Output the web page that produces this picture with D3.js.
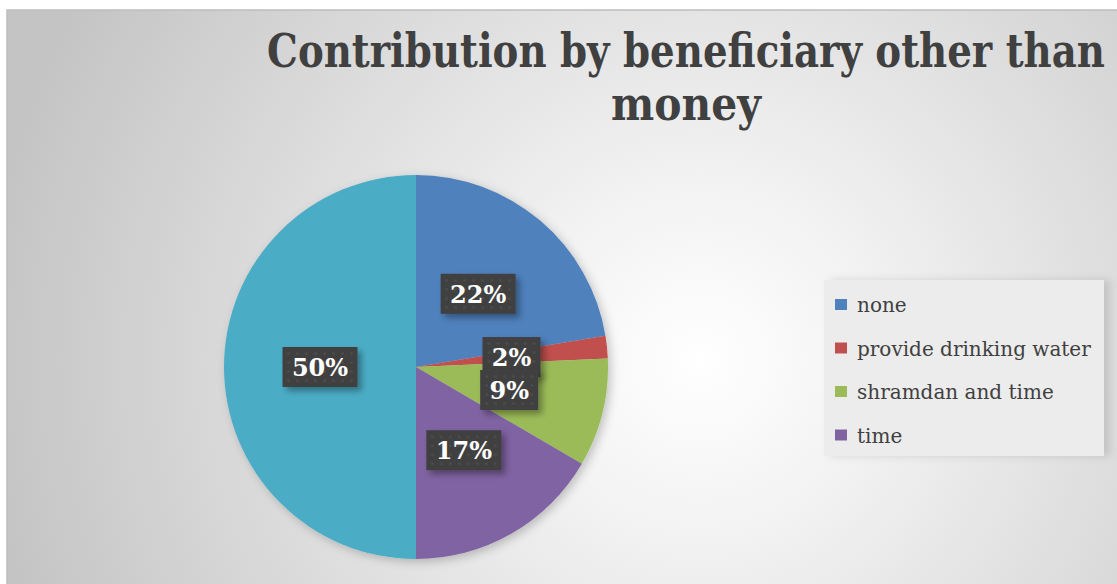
<!DOCTYPE html>
<html>
<head>
<meta charset="utf-8">
<script src="https://cdn.jsdelivr.net/npm/d3@7"></script>
<style>
  html, body { margin: 0; padding: 0; background: #fff; }
  svg { display: block; }
</style>
</head>
<body>
<div id="root"></div>
<script>
// chart data
const categories = ["none", "provide drinking water", "shramdan and time", "time", ""];
const values = [22.4, 1.9, 9.1, 16.6, 50];
const colors = ["#4f81bd", "#c0504d", "#9bbb59", "#8064a2", "#4bacc6"];
const titleLines = ["Contribution by beneficiary other than", "money"];

const width = 1117, height = 584;
const frame = { left: 7, top: 10 };
const pieCenter = { x: 416, y: 367 }, radius = 192;

const svg = d3.select("#root")
  .append("svg")
  .attr("width", width)
  .attr("height", height);

const defs = svg.append("defs");

// soft grey radial background
const bg = defs.append("radialGradient")
  .attr("id", "bg")
  .attr("gradientUnits", "userSpaceOnUse")
  .attr("cx", 700).attr("cy", 360).attr("r", 720);
bg.append("stop").attr("offset", "0").attr("stop-color", "#ffffff");
bg.append("stop").attr("offset", "0.25").attr("stop-color", "#f2f2f2");
bg.append("stop").attr("offset", "1").attr("stop-color", "#c4c4c4");

// shadows
const pieShadow = defs.append("filter").attr("id", "pieShadow")
  .attr("x", "-20%").attr("y", "-20%").attr("width", "140%").attr("height", "140%");
pieShadow.append("feDropShadow")
  .attr("dx", 3).attr("dy", 3).attr("stdDeviation", 5)
  .attr("flood-color", "#000").attr("flood-opacity", 0.22);

const boxShadow = defs.append("filter").attr("id", "boxShadow")
  .attr("x", "-30%").attr("y", "-30%").attr("width", "160%").attr("height", "160%");
boxShadow.append("feDropShadow")
  .attr("dx", 4).attr("dy", 4).attr("stdDeviation", 3)
  .attr("flood-color", "#000").attr("flood-opacity", 0.35);

const legendShadow = defs.append("filter").attr("id", "legendShadow")
  .attr("x", "-10%").attr("y", "-10%").attr("width", "130%").attr("height", "130%");
legendShadow.append("feDropShadow")
  .attr("dx", 6).attr("dy", 0).attr("stdDeviation", 4)
  .attr("flood-color", "#000").attr("flood-opacity", 0.12);

// dotted texture for the data label boxes
const dots = defs.append("pattern")
  .attr("id", "dots")
  .attr("patternUnits", "userSpaceOnUse")
  .attr("width", 9).attr("height", 9);
dots.append("rect").attr("width", 9).attr("height", 9).attr("fill", "#3f3f3f");
dots.append("circle").attr("cx", 4.5).attr("cy", 4.5).attr("r", 1.6).attr("fill", "#4b4b4b");

// chart area
svg.append("rect")
  .attr("x", frame.left).attr("y", frame.top)
  .attr("width", width - frame.left + 5).attr("height", height - frame.top + 5)
  .attr("fill", "url(#bg)")
  .attr("stroke", "#bdbdbd").attr("stroke-width", 1.5);

// title: condensed by a horizontal scale so it fits the visible area
const titleWidths = [838, 150];
svg.append("g")
  .selectAll("g")
  .data(titleLines)
  .join("g")
  .attr("transform", (d, i) => `translate(686, ${67 + i * 53})`)
  .append("text")
  .attr("text-anchor", "middle")
  .attr("fill", "#404040")
  .style("font-family", "'DejaVu Serif', serif")
  .style("font-weight", "bold")
  .style("font-size", "47px")
  .text(d => d)
  .each(function (d, i) {
    const sx = titleWidths[i] / this.getComputedTextLength();
    this.setAttribute("transform", `scale(${sx}, 1)`);
  });

// pie
const data = categories.map((c, i) => ({ category: c, value: values[i], color: colors[i] }));
const total = d3.sum(values);
const pie = d3.pie().sort(null).value(d => d.value);
const arc = d3.arc().innerRadius(0).outerRadius(radius);
const labelArc = d3.arc().innerRadius(radius * 0.5).outerRadius(radius * 0.5);
const arcs = pie(data);

const pieG = svg.append("g")
  .attr("transform", `translate(${pieCenter.x}, ${pieCenter.y})`);

pieG.append("g")
  .attr("filter", "url(#pieShadow)")
  .selectAll("path")
  .data(arcs)
  .join("path")
  .attr("d", arc)
  .attr("fill", d => d.data.color);

// data labels
const fmt = d3.format(".0%");
const labels = pieG.append("g")
  .selectAll("g")
  .data(arcs)
  .join("g")
  .attr("transform", d => `translate(${labelArc.centroid(d)})`);

labels.append("rect")
  .attr("x", d => -(fmt(d.data.value / total).length * 17 + 24) / 2)
  .attr("y", -20)
  .attr("width", d => fmt(d.data.value / total).length * 17 + 24)
  .attr("height", 40)
  .attr("fill", "url(#dots)")
  .attr("filter", "url(#boxShadow)");

labels.append("text")
  .attr("text-anchor", "middle")
  .attr("dy", "0.37em")
  .attr("fill", "#ffffff")
  .style("font-family", "'DejaVu Serif', serif")
  .style("font-weight", "bold")
  .style("font-size", "24px")
  .text(d => fmt(d.data.value / total));

// legend
const legendItems = data.filter(d => d.category !== "");
const legend = svg.append("g").attr("transform", "translate(824, 280)");

legend.append("rect")
  .attr("width", 280).attr("height", 176)
  .attr("fill", "#ececec")
  .attr("filter", "url(#legendShadow)");

const rows = legend.selectAll("g.item")
  .data(legendItems)
  .join("g")
  .attr("class", "item")
  .attr("transform", (d, i) => `translate(0, ${25 + i * 43.5})`);

rows.append("rect")
  .attr("x", 11).attr("y", -6)
  .attr("width", 12).attr("height", 11)
  .attr("fill", d => d.color);

rows.append("text")
  .attr("x", 33)
  .attr("dy", "0.35em")
  .attr("fill", "#404040")
  .style("font-family", "'DejaVu Serif', serif")
  .style("font-size", "20px")
  .text(d => d.category);
</script>
</body>
</html>
